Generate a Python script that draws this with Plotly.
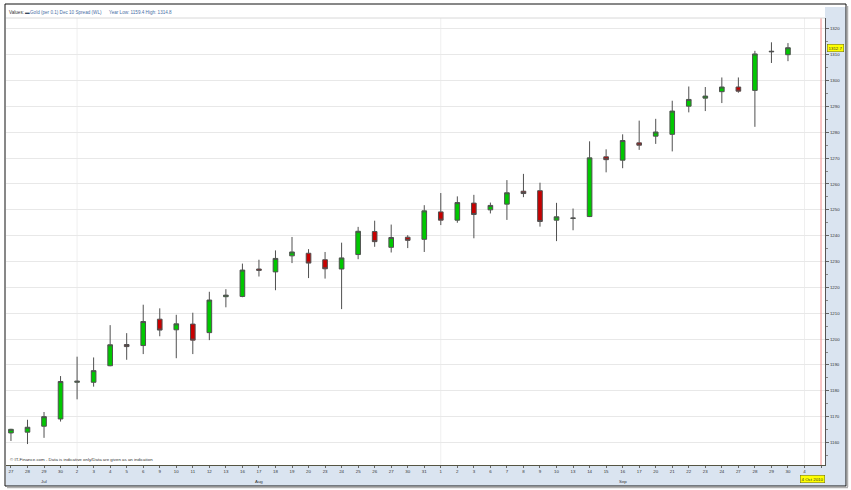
import plotly.graph_objects as go
from datetime import date

# ---- data ----
dates = ["2010-07-27", "2010-07-28", "2010-07-29", "2010-07-30",
         "2010-08-02", "2010-08-03", "2010-08-04", "2010-08-05", "2010-08-06",
         "2010-08-09", "2010-08-10", "2010-08-11", "2010-08-12", "2010-08-13",
         "2010-08-16", "2010-08-17", "2010-08-18", "2010-08-19", "2010-08-20",
         "2010-08-23", "2010-08-24", "2010-08-25", "2010-08-26", "2010-08-27",
         "2010-08-30", "2010-08-31",
         "2010-09-01", "2010-09-02", "2010-09-03",
         "2010-09-06", "2010-09-07", "2010-09-08", "2010-09-09", "2010-09-10",
         "2010-09-13", "2010-09-14", "2010-09-15", "2010-09-16", "2010-09-17",
         "2010-09-20", "2010-09-21", "2010-09-22", "2010-09-23", "2010-09-24",
         "2010-09-27", "2010-09-28", "2010-09-29", "2010-09-30"]
extra_axis_dates = ["2010-10-04"]

opens  = [1163.7, 1164.0, 1166.3, 1169.1, 1183.3, 1183.3, 1189.7, 1197.9, 1197.5,
          1207.7, 1203.6, 1205.8, 1202.5, 1216.4, 1216.5, 1227.1, 1226.0, 1232.2,
          1233.2, 1230.7, 1227.1, 1232.7, 1241.6, 1235.5, 1239.4, 1238.6,
          1249.2, 1246.0, 1252.6, 1250.0, 1252.2, 1257.2, 1257.4, 1246.0, 1246.7,
          1247.4, 1270.5, 1269.2, 1275.9, 1278.5, 1279.2, 1290.1, 1293.2, 1295.7,
          1297.5, 1296.2, 1311.1, 1310.0]
highs  = [1165.3, 1168.8, 1171.8, 1185.7, 1193.2, 1192.9, 1205.4, 1202.3, 1213.3,
          1211.9, 1209.4, 1210.2, 1218.3, 1219.3, 1229.2, 1230.7, 1234.3, 1239.5,
          1234.8, 1233.7, 1237.3, 1243.4, 1245.8, 1244.3, 1240.2, 1251.8,
          1256.5, 1255.2, 1255.8, 1252.8, 1261.5, 1263.9, 1260.5, 1252.7, 1250.5,
          1276.5, 1273.4, 1279.2, 1284.5, 1285.2, 1292.2, 1297.7, 1297.5, 1301.2,
          1301.2, 1311.5, 1314.8, 1314.5]
lows   = [1160.6, 1159.4, 1161.8, 1168.1, 1176.7, 1181.6, 1189.5, 1192.0, 1194.2,
          1201.1, 1192.6, 1194.2, 1199.6, 1212.3, 1216.2, 1224.2, 1218.9, 1229.4,
          1223.6, 1223.4, 1211.6, 1230.9, 1235.7, 1233.5, 1235.2, 1233.7,
          1244.1, 1245.0, 1239.0, 1248.6, 1246.1, 1254.9, 1243.5, 1237.9, 1242.1,
          1247.2, 1264.5, 1266.1, 1273.2, 1275.5, 1272.6, 1287.7, 1288.2, 1291.3,
          1295.3, 1282.1, 1306.8, 1307.5]
closes = [1165.1, 1165.9, 1170.0, 1183.6, 1183.7, 1187.8, 1197.8, 1197.1, 1206.8,
          1203.5, 1205.9, 1199.6, 1215.1, 1217.0, 1226.7, 1226.6, 1231.2, 1233.7,
          1229.4, 1227.2, 1231.4, 1241.7, 1237.7, 1239.3, 1238.2, 1249.6,
          1246.0, 1252.8, 1248.2, 1251.7, 1256.6, 1256.3, 1245.5, 1247.3, 1246.8,
          1270.1, 1269.4, 1276.8, 1275.0, 1280.1, 1288.2, 1292.7, 1294.0, 1297.5,
          1295.9, 1310.3, 1311.3, 1312.7]

y_ticks = list(range(1160, 1321, 10))
legend_name = "Gold (per 0.1) Dec 10 Spread (WL)"
year_low, year_high = 1159.4, 1314.8
last_label = "1312.7"
date_label = "4 Oct 2010"
copyright_txt = "© IT-Finance.com - Data is indicative only/Data are given as an indication"

# ---- derived ----
axis_dates = [date.fromisoformat(d) for d in dates + extra_axis_dates]
idx = list(range(len(dates)))
tick_vals = list(range(len(axis_dates))) + [len(axis_dates)]
tick_text = [str(d.day) for d in axis_dates] + [""]
month_starts = [i for i in range(1, len(axis_dates)) if axis_dates[i].month != axis_dates[i - 1].month]
now_pos = len(axis_dates)

W, H = 851, 490
L, R, T, B = 6, 825, 18, 465
pw, ph = R - L, B - T


def px(x):
    return (x - L) / pw


def py(y):
    return (B - y) / ph


fig = go.Figure()
fig.add_trace(go.Candlestick(
    x=idx, open=opens, high=highs, low=lows, close=closes,
    increasing=dict(fillcolor="#00c800", line=dict(color="#505050", width=1)),
    decreasing=dict(fillcolor="#c80000", line=dict(color="#505050", width=1)),
    whiskerwidth=0, showlegend=False, hoverinfo="skip"))

shapes = []
# panels
shapes.append(dict(type="rect", xref="paper", yref="paper", x0=px(R), x1=px(846), y0=py(486), y1=py(7),
                   fillcolor="#dae4f0", line=dict(width=0), layer="below"))
shapes.append(dict(type="rect", xref="paper", yref="paper", x0=px(L), x1=px(846), y0=py(486), y1=py(B),
                   fillcolor="#dae4f0", line=dict(width=0), layer="below"))
# month gridlines
for m in month_starts:
    shapes.append(dict(type="line", xref="x", yref="paper", x0=m, x1=m, y0=0, y1=1,
                       line=dict(color="#efefef", width=1), layer="below"))
# current-date line
shapes.append(dict(type="line", xref="x", yref="paper", x0=now_pos, x1=now_pos, y0=0, y1=1,
                   line=dict(color="#f08c8c", width=1), layer="above"))
# top strip separator
shapes.append(dict(type="line", xref="paper", yref="paper", x0=0, x1=1, y0=1, y1=1,
                   line=dict(color="#d8d8d8", width=1)))
# outer frame
shapes.append(dict(type="rect", xref="paper", yref="paper", x0=px(5), x1=px(846), y0=py(486), y1=py(4),
                   line=dict(color="#111111", width=1), fillcolor="rgba(0,0,0,0)"))
shapes.append(dict(type="line", xref="paper", yref="paper", x0=px(847.5), x1=px(847.5), y0=py(487), y1=py(6),
                   line=dict(color="#b0b0b0", width=1.5)))
shapes.append(dict(type="line", xref="paper", yref="paper", x0=px(7), x1=px(848), y0=py(487.5), y1=py(487.5),
                   line=dict(color="#b0b0b0", width=1.5)))

annotations = []
annotations.append(dict(xref="paper", yref="paper", x=px(7), y=py(12.5), xanchor="left", yanchor="middle",
                        text="Values:", showarrow=False, font=dict(size=4.6, color="#333333")))
annotations.append(dict(xref="paper", yref="paper", x=px(22.5), y=py(12.5), xanchor="left", yanchor="middle",
                        text="<b>▬</b>", showarrow=False, font=dict(size=4.6, color="#34495e")))
annotations.append(dict(xref="paper", yref="paper", x=px(28), y=py(12.5), xanchor="left", yanchor="middle",
                        text=f"{legend_name}      Year Low: {year_low} High: {year_high}",
                        showarrow=False, font=dict(size=4.6, color="#4a6fa5")))
annotations.append(dict(xref="paper", yref="paper", x=px(8), y=py(459), xanchor="left", yanchor="middle",
                        text=copyright_txt, showarrow=False, font=dict(size=4.4, color="#333333")))
# month labels: centred between the month's first slot and the next month's first slot
bounds = [0] + month_starts
for k in range(len(bounds) - 1):
    a, b = bounds[k], bounds[k + 1]
    annotations.append(dict(xref="x", yref="paper", x=(a + b) / 2, y=py(481), xanchor="center",
                            yanchor="middle", text=axis_dates[a].strftime("%b"), showarrow=False,
                            font=dict(size=4.4, color="#333333")))
# last price box
annotations.append(dict(xref="paper", yref="y", x=px(826.5), y=closes[-1], xanchor="left", yanchor="middle",
                        text=last_label, showarrow=False, bgcolor="#ffff00", bordercolor="#666600",
                        borderwidth=0.5, borderpad=1, font=dict(size=4.4, color="#333333")))
# date box
annotations.append(dict(xref="x", yref="paper", x=now_pos - 0.5, y=py(478.5), xanchor="center", yanchor="middle",
                        text=date_label, showarrow=False, bgcolor="#ffff00", bordercolor="#666600",
                        borderwidth=0.5, borderpad=1, font=dict(size=4.4, color="#333333")))

fig.update_layout(
    width=W, height=H,
    margin=dict(l=L, r=W - R, t=T, b=H - B, pad=0),
    paper_bgcolor="white", plot_bgcolor="white",
    font=dict(family="Liberation Sans, Arial, sans-serif"),
    boxgap=0.6, boxgroupgap=0.3,
    shapes=shapes, annotations=annotations,
    xaxis=dict(range=[-0.30, 49.24], tickmode="array", tickvals=tick_vals, ticktext=tick_text,
               tickfont=dict(size=4.4, color="#333333"), ticks="outside", ticklen=2, tickcolor="#666666",
               showgrid=False, showline=True, linecolor="#555544", linewidth=1, zeroline=False,
               rangeslider=dict(visible=False), fixedrange=True),
    yaxis=dict(side="right", range=[1151.3, 1324.2], tickmode="array", tickvals=y_ticks,
               tickfont=dict(size=4.4, color="#333333"), ticks="outside", ticklen=3, tickcolor="#666666",
               minor=dict(dtick=5, ticks="outside", ticklen=2, tickcolor="#888888", showgrid=False),
               showgrid=True, gridcolor="#e8e8e8", gridwidth=1, showline=True, linecolor="#555555",
               linewidth=1, zeroline=False, fixedrange=True),
)

fig.write_html("out.html", config={"displayModeBar": False},
               post_script="document.body.style.margin='0px';document.body.style.overflow='hidden';")
